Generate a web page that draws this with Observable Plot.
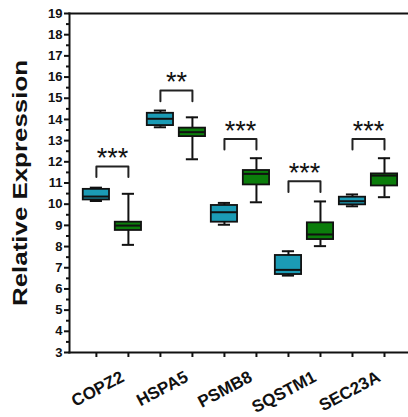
<!DOCTYPE html>
<html>
<head>
<meta charset="utf-8">
<script src="https://cdn.jsdelivr.net/npm/d3@7"></script>
<script src="https://cdn.jsdelivr.net/npm/@observablehq/plot@0.6"></script>
<style>
  html, body { margin: 0; padding: 0; background: #fff; }
  #chart { width: 408px; height: 417px; }
  svg { font-family: "Liberation Sans", Arial, sans-serif; }
</style>
</head>
<body>
<div id="chart"></div>
<script>
// ---- data ----
const genes = ["COPZ2", "HSPA5", "PSMB8", "SQSTM1", "SEC23A"];
const groups = ["control", "treated"];
const groupColors = ["#1b9bb5", "#0b7d0b"];
// [min, q1, median, q3, max] per gene
const controlStats = [
  [10.15, 10.20, 10.36, 10.70, 10.78],
  [13.63, 13.71, 14.03, 14.29, 14.42],
  [9.03, 9.15, 9.62, 9.94, 10.06],
  [6.63, 6.68, 6.90, 7.58, 7.78],
  [9.90, 9.97, 10.14, 10.33, 10.46]
];
const treatedStats = [
  [8.08, 8.76, 8.99, 9.15, 10.49],
  [12.12, 13.19, 13.40, 13.59, 14.10],
  [10.09, 10.91, 11.43, 11.59, 12.17],
  [8.02, 8.33, 8.57, 9.12, 10.13],
  [10.33, 10.86, 11.35, 11.43, 12.17]
];
const bracketTops = [11.78, 15.36, 13.08, 11.08, 13.08];
const stars = ["***", "**", "***", "***", "***"];
const yTicks = d3.range(3, 20);
const yMinorTicks = d3.range(3.5, 19, 1);
const yLabel = "Relative Expression";

// ---- derived tables ----
const boxes = [];
genes.forEach((g, i) => {
  [controlStats[i], treatedStats[i]].forEach((s, k) => {
    boxes.push({gene: g, group: groups[k], pos: 2 * i + k,
      min: s[0], q1: s[1], median: s[2], q3: s[3], max: s[4]});
  });
});
const brackets = [];
genes.forEach((g, i) => {
  const top = bracketTops[i], leg = top - 0.5;
  brackets.push({gene: g, pos: 2 * i, y: leg});
  brackets.push({gene: g, pos: 2 * i, y: top});
  brackets.push({gene: g, pos: 2 * i + 1, y: top});
  brackets.push({gene: g, pos: 2 * i + 1, y: leg});
});
const sig = genes.map((g, i) => ({gene: g, pos: 2 * i + 0.5, y: bracketTops[i], label: stars[i]}));
const labels = genes.map((g, i) => ({gene: g, pos: 2 * i + 0.5}));
const boxPositions = boxes.map(b => b.pos);

const hw = 0.41, cw = 0.19;

const chart = Plot.plot({
  width: 408,
  height: 417,
  marginLeft: 69,
  marginRight: 0,
  marginTop: 13,
  marginBottom: 65,
  x: {type: "linear", domain: [-0.84, 9.75], axis: null},
  y: {domain: [3, 19], axis: null},
  color: {domain: groups, range: groupColors},
  marks: [
    // frame lines
    Plot.frame({anchor: "left", strokeWidth: 2, stroke: "#111"}),
    Plot.frame({anchor: "bottom", strokeWidth: 2, stroke: "#111"}),
    Plot.frame({anchor: "top", strokeWidth: 2, stroke: "#111"}),
    // y axis
    Plot.axisY({ticks: yTicks, tickSize: 5, tickPadding: 2, fontSize: 13, fontWeight: "bold",
      strokeWidth: 2, stroke: "#111", fill: "#111", label: null}),
    Plot.axisY({ticks: yMinorTicks, tickSize: 3, tickFormat: () => "", strokeWidth: 2, stroke: "#111", label: null}),
    Plot.axisY({ticks: [], label: yLabel, labelAnchor: "center", labelArrow: "none", labelOffset: 57,
      fontSize: 21, fontWeight: "bold", fill: "#111", dy: 7}),
    // x axis ticks
    Plot.axisX({ticks: boxPositions, tickSize: 5, tickFormat: () => "", strokeWidth: 2, stroke: "#111", label: null}),
    Plot.text(labels, {x: "pos", frameAnchor: "bottom", text: "gene", rotate: -28, textAnchor: "end",
      dx: 13, dy: 28, fontSize: 17, fontWeight: "bold", fill: "#111"}),
    // whiskers
    Plot.ruleX(boxes, {x: "pos", y1: "min", y2: "max", stroke: "#111", strokeWidth: 2}),
    Plot.ruleY(boxes, {y: "min", x1: d => d.pos - cw, x2: d => d.pos + cw, stroke: "#111", strokeWidth: 2}),
    Plot.ruleY(boxes, {y: "max", x1: d => d.pos - cw, x2: d => d.pos + cw, stroke: "#111", strokeWidth: 2}),
    // boxes
    Plot.rect(boxes, {x1: d => d.pos - hw, x2: d => d.pos + hw, y1: "q1", y2: "q3",
      fill: "group", stroke: "#111", strokeWidth: 1.8}),
    Plot.ruleY(boxes, {y: "median", x1: d => d.pos - hw, x2: d => d.pos + hw, stroke: "#111", strokeWidth: 2}),
    // brackets
    Plot.line(brackets, {x: "pos", y: "y", z: "gene", stroke: "#222", strokeWidth: 2}),
    Plot.text(sig, {x: "pos", y: "y", text: "label", dy: -8, fontSize: 27, fill: "#111",
      lineAnchor: "middle", letterSpacing: "1px"})
  ]
});
document.getElementById("chart").appendChild(chart);
// stretch the axis title to the reference length
d3.select(chart).selectAll("text").filter(function() { return this.textContent === yLabel; })
  .attr("textLength", 246).attr("lengthAdjust", "spacingAndGlyphs");
</script>
</body>
</html>
